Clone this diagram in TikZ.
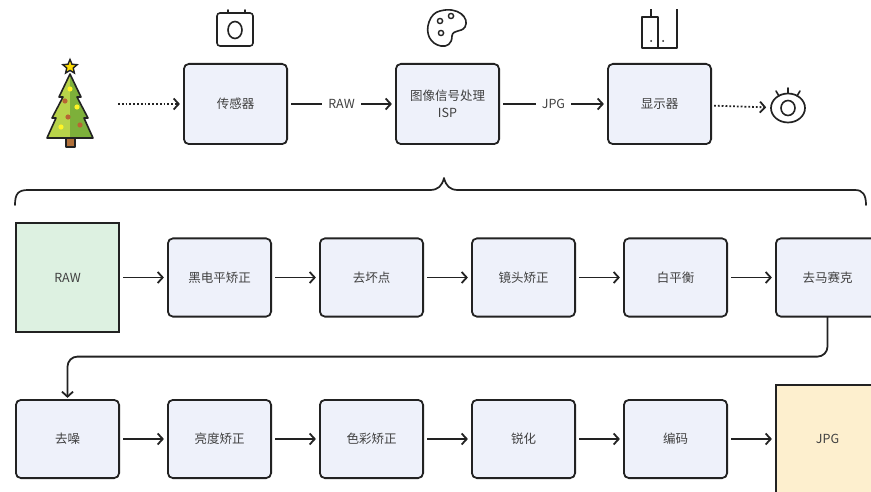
\documentclass[tikz,border=0pt]{standalone}
\usepackage{fontspec}
\newfontfamily\cjk{Noto Sans CJK SC}
\usetikzlibrary{arrows.meta,positioning,shapes.geometric}
\definecolor{boxfill}{HTML}{EEF1FA}
\definecolor{rawfill}{HTML}{DDF1E1}
\definecolor{jpgfill}{HTML}{FDEFCE}
\definecolor{txt}{HTML}{404040}
\definecolor{ink}{HTML}{222222}
\definecolor{leafA}{HTML}{B8D34A}
\definecolor{leafB}{HTML}{7DB03A}
\definecolor{bark}{HTML}{B0703A}
\tikzset{
%Define standard arrow tip
    >={Straight Barb[length=5pt,width=11pt]},
%Define style for boxes
    stage/.style={
           rectangle,
           rounded corners=5pt,
           draw=ink, line width=1.8pt,
           outer sep=0pt,
           fill=boxfill,
           minimum width=103.2pt,
           minimum height=78.2pt,
           text=txt,
           font=\cjk\fontsize{12.5}{17}\selectfont,
           align=center},
    blob/.style={
           stage,
           rounded corners=0pt,
           minimum height=108.2pt},
% Define arrow style
    flow/.style={
           ->,
           draw=ink,
           line width=1.8pt,
           shorten <=4pt,
           shorten >=4pt},
    lbl/.style={
           fill=white,
           inner sep=6pt,
           text=txt,
           font=\cjk\fontsize{12.5}{15}\selectfont},
    icon/.style={
           draw=ink,
           line width=1.6pt,
           line join=round,
           line cap=round}
}
\begin{document}
\begin{tikzpicture}[x=1pt, y=-1pt]
 \clip (0,0) rectangle (871,492);
 \fill[white] (0,0) rectangle (871,492);
% top row
 \node[stage, minimum height=80.2pt] (sensor) at (235.5,104) {传感器};
 \node[stage, minimum height=80.2pt, right=108.8pt of sensor] (isp) {图像信号处理\\ISP};
 \node[stage, minimum height=80.2pt, right=108.8pt of isp] (screen) {显示器};
 \draw[flow] (sensor) -- node[lbl] {RAW} (isp);
 \draw[flow] (isp) -- node[lbl] {JPG} (screen);
% tree
 \begin{scope}
   \clip (70,74) -- (59,97) -- (63,97) -- (52,118) -- (56,118) -- (47,138)
     -- (93,138) -- (84,118) -- (88,118) -- (77,97) -- (81,97) -- cycle;
   \fill[leafA] (40,70) rectangle (70,140);
   \fill[leafB] (70,70) rectangle (100,140);
 \end{scope}
 \draw[icon, fill=bark] (66,138) rectangle (75,147);
 \draw[icon] (70,74) -- (59,97) -- (63,97) -- (52,118) -- (56,118) -- (47,138)
     -- (93,138) -- (84,118) -- (88,118) -- (77,97) -- (81,97) -- cycle;
 \foreach \px/\py in {70/89,77/107,61/127}
   \fill[yellow!85!white] (\px,\py) circle (2.6pt);
 \foreach \px/\py in {65/101,68/117,80/125}
   \fill[bark!90!red] (\px,\py) circle (2.6pt);
 \node[star, star points=5, star point ratio=2.2, draw=ink, line width=1.4pt,
       fill=yellow!80!orange, minimum size=15pt, inner sep=0pt] (topstar) at (70,67) {};
 \coordinate (treeR) at (118,104);
 \draw[flow, dotted, shorten <=0pt] (treeR) -- (sensor.west);
% camera
 \draw[icon, rounded corners=3pt] (217,13) rectangle (253,46);
 \draw[icon] (235,30) ellipse (7pt and 8.5pt);
 \draw[icon] (228,10) -- (228,13) (245,10) -- (245,13);
% palette
 \draw[icon] (440,11) .. controls (458,6) and (470,18) .. (465,27)
   .. controls (461,33) and (453,29) .. (452,36)
   .. controls (452,44) and (447,47) .. (441,46)
   .. controls (430,44) and (425,33) .. (429,22)
   .. controls (431,16) and (435,12) .. (440,11) -- cycle;
 \foreach \px/\py in {440/21,451/16,441/33}
   \draw[icon, line width=1.4pt] (\px,\py) circle (2.6pt);
% screen icon
 \draw[icon, line cap=butt] (642,17) rectangle (658,48);
 \draw[icon, line cap=butt] (651,17) -- (651,9);
 \draw[icon, line cap=butt] (658,48) -- (677,48) -- (677,9);
 \fill[ink] (651,41) circle (1pt) (663,41) circle (1pt);
% eye
 \node[ellipse, draw=ink, line width=1.7pt, minimum width=34pt, minimum height=29pt] (eye) at (788,108) {};
 \draw[icon] (eye.center) ellipse (7pt and 7.5pt);
 \draw[icon] (788,88) -- (788,93) (776,91) -- (779,96) (800,91) -- (797,96);
 \draw[flow, dotted, shorten <=3pt] (screen) -- (eye);
% brace
 \draw[icon, line width=1.7pt] (15,205) .. controls (15,194) and (18,190) .. (28,190) -- (430,190)
   .. controls (438,190) and (442,186) .. (444,178)
   .. controls (446,186) and (450,190) .. (458,190) -- (855,190)
   .. controls (863,190) and (866,195) .. (866,205);
% second row
 \node[blob, fill=rawfill] (raw) at (67.5,277.5) {RAW};
 \node[stage, right=48.8pt of raw] (blc) {黑电平矫正};
 \node[stage, right=48.8pt of blc] (dpc) {去坏点};
 \node[stage, right=48.8pt of dpc] (lsc) {镜头矫正};
 \node[stage, right=48.8pt of lsc] (awb) {白平衡};
 \node[stage, right=48.8pt of awb] (demosaic) {去马赛克};
% third row
 \node[stage] (denoise) at (67.5,439) {去噪};
 \node[stage, right=48.8pt of denoise] (bright) {亮度矫正};
 \node[stage, right=48.8pt of bright] (ccm) {色彩矫正};
 \node[stage, right=48.8pt of ccm] (sharp) {锐化};
 \node[stage, right=48.8pt of sharp] (encode) {编码};
 \node[blob, fill=jpgfill, right=48.8pt of encode] (jpg) {JPG};
 \foreach \a/\b in {raw/blc,blc/dpc,dpc/lsc,lsc/awb,awb/demosaic,
                    denoise/bright,bright/ccm,ccm/sharp,sharp/encode,encode/jpg}
   \draw[flow] (\a) -- (\b);
 \draw[flow, shorten <=0pt, shorten >=2pt, rounded corners=10pt]
   (demosaic.south) -- ++(0,40) -| (denoise.north);
\end{tikzpicture}
\end{document}
